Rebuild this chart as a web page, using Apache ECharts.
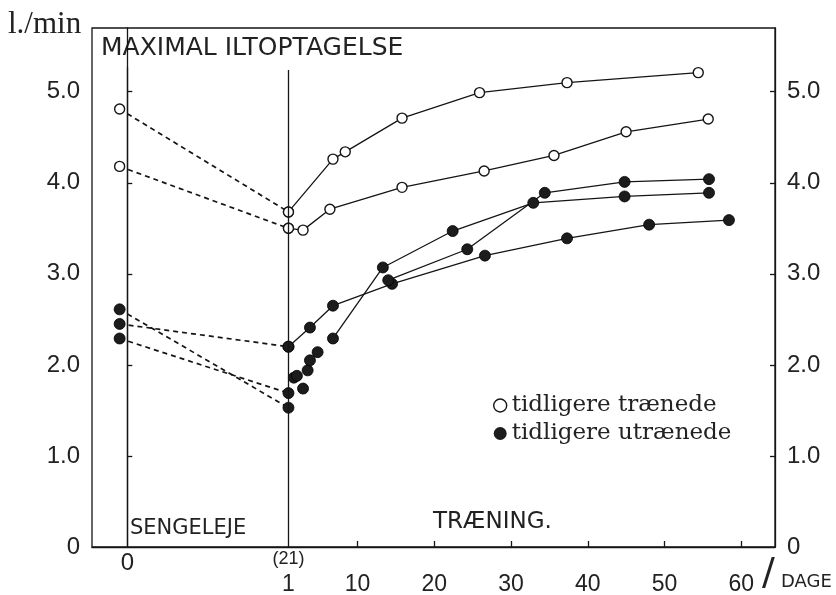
<!DOCTYPE html>
<html>
<head>
<meta charset="utf-8">
<script src="https://cdn.jsdelivr.net/npm/echarts@6/dist/echarts.min.js"></script>
<style>
html,body{margin:0;padding:0;background:#fff;}
#chart{width:836px;height:595px;}
</style>
</head>
<body>
<div id="chart"></div>
<script>
// ---- data (x: bed-rest day; training day t is plotted at day 20 + t, so training day 1 = bed-rest day 21) ----
const dayOffset = 20;
const bedRestDays = [-1.0, 21];           // tests at start (day 0) and end (day 21) of bed rest
const trained1Bed = [4.81, 3.68];
const trained2Bed = [4.18, 3.50];
const untrained1Bed = [2.45, 2.20];
const untrained2Bed = [2.61, 1.53];
const untrained3Bed = [2.29, 1.69];

const trained1Days = [1, 6.8, 8.4, 15.8, 25.9, 37.3, 54.4];
const trained1Vo2  = [3.68, 4.26, 4.34, 4.71, 4.99, 5.10, 5.21];
const trained2Days = [1, 2.9, 6.4, 15.8, 26.5, 35.6, 45.0, 55.7];
const trained2Vo2  = [3.50, 3.48, 3.71, 3.95, 4.13, 4.30, 4.56, 4.70];

const untrained1Days = [1, 3.8, 6.8, 14.5, 26.6, 37.3, 48.0, 58.4];
const untrained1Vo2  = [2.20, 2.41, 2.65, 2.89, 3.20, 3.39, 3.54, 3.59];
const untrainedEarlyDays = [1.7, 2.1, 2.9, 3.5, 3.8, 4.8];
const untrainedEarlyVo2  = [1.86, 1.88, 1.74, 1.94, 2.05, 2.14];
const untrained2Days = [6.8, 13.3, 22.4, 32.9, 44.8, 55.8];
const untrained2Vo2  = [2.29, 3.07, 3.47, 3.78, 3.85, 3.89];
const untrained3Days = [14.0, 24.3, 34.4, 44.8, 55.8];
const untrained3Vo2  = [2.93, 3.27, 3.89, 4.01, 4.04];

const xLabelPos    = [0, 21, 30, 40, 50, 60, 70, 80];
const xLabelTop    = ['0', '(21)', '', '', '', '', '', ''];
const xLabelBottom = ['', '1', '10', '20', '30', '40', '50', '60'];
const xTickPos     = [30, 40, 50, 60, 70, 80];
const yLabelPos    = [0, 1, 2, 3, 4, 5];
const yLabelText   = ['0', '1.0', '2.0', '3.0', '4.0', '5.0'];
const yTickPos     = [1, 2, 3, 4, 5];
const phaseLines   = [[0, 5.27], [21, 5.24]];   // day, top of vertical divider

const nameTrained = 'tidligere trænede';
const nameUntrained = 'tidligere utrænede';

// ---- build ----
const INK = '#151515';
const openStyle = {color: '#fff', borderColor: INK, borderWidth: 1.4, opacity: 1};
const fillStyle = {color: '#1c1c1c', borderColor: '#000', borderWidth: 0.8, opacity: 1};

function trainPts(days, vals) { return days.map((d, i) => [d + dayOffset, vals[i]]); }
function bedPts(vals) { return bedRestDays.map((d, i) => [d, vals[i]]); }

function solid(name, data, open) {
  return {
    type: 'line', name: name, data: data, symbol: 'circle',
    symbolSize: open ? 10 : 11, showSymbol: true, z: 3,
    itemStyle: open ? openStyle : fillStyle,
    lineStyle: {color: INK, width: 1.3}
  };
}
function dashed(name, data, open) {
  return {
    type: 'line', name: name, data: data, symbol: 'circle',
    symbolSize: open ? 10 : 11, z: 2,
    itemStyle: open ? openStyle : fillStyle,
    lineStyle: {color: INK, width: 1.7, type: [5, 4]}
  };
}

const series = [
  dashed('bt1', bedPts(trained1Bed), true),
  dashed('bt2', bedPts(trained2Bed), true),
  dashed('bu1', bedPts(untrained1Bed), false),
  dashed('bu2', bedPts(untrained2Bed), false),
  dashed('bu3', bedPts(untrained3Bed), false),
  solid(nameTrained, trainPts(trained1Days, trained1Vo2), true),
  solid(nameTrained, trainPts(trained2Days, trained2Vo2), true),
  solid(nameUntrained, trainPts(untrained1Days, untrained1Vo2), false),
  solid(nameUntrained, trainPts(untrained2Days, untrained2Vo2), false),
  solid(nameUntrained, trainPts(untrained3Days, untrained3Vo2), false),
  {
    type: 'scatter', name: nameUntrained, data: trainPts(untrainedEarlyDays, untrainedEarlyVo2),
    symbol: 'circle', symbolSize: 11, itemStyle: fillStyle, z: 3
  }
];
series[0].markLine = {
  silent: true, symbol: 'none', label: {show: false},
  lineStyle: {color: INK, width: 1.3, type: 'solid'},
  data: phaseLines.map(p => [{coord: [p[0], 0]}, {coord: [p[0], p[1]]}])
};

const numFont = "'Liberation Sans', Arial, sans-serif";
const yAxisCommon = {
  type: 'value', min: 0, max: 5.7,
  splitLine: {show: false},
  axisLine: {show: true, lineStyle: {color: INK, width: 1.3}},
  axisTick: {show: true, inside: true, length: 5, customValues: yTickPos, lineStyle: {color: INK, width: 1.3}},
  axisLabel: {
    customValues: yLabelPos, margin: 12, color: '#222', fontSize: 24, fontFamily: numFont,
    formatter: v => yLabelText[yLabelPos.indexOf(Math.round(v))] || ''
  }
};

const chart = echarts.init(document.getElementById('chart'), null, {renderer: 'canvas'});
chart.setOption({
  animation: false,
  backgroundColor: '#fff',
  grid: {left: 92, right: 61, top: 28, bottom: 48, containLabel: false, outerBoundsMode: 'none',
         show: true, borderColor: INK, borderWidth: 1.3, backgroundColor: 'transparent'},
  xAxis: {
    type: 'value', min: -4.6, max: 84.4,
    splitLine: {show: false},
    axisLine: {show: true, lineStyle: {color: INK, width: 1.3}},
    axisTick: {show: true, inside: true, length: 6, customValues: xTickPos, lineStyle: {color: INK, width: 1.3}},
    axisLabel: {
      customValues: xLabelPos, margin: 1, color: '#222', fontFamily: numFont,
      formatter: v => {
        const i = xLabelPos.indexOf(Math.round(v));
        if (i < 0) return '';
        const top = xLabelTop[i] === '' ? ' ' : xLabelTop[i];
        const bot = xLabelBottom[i] === '' ? ' ' : xLabelBottom[i];
        const topStyle = i === 0 ? 'z' : 't';
        return '{' + topStyle + '|' + top + '}\n{b|' + bot + '}';
      },
      rich: {
        t: {fontSize: 18, lineHeight: 22, fontFamily: numFont, color: '#222'},
        z: {fontSize: 24, lineHeight: 30, fontFamily: numFont, color: '#222'},
        b: {fontSize: 23, lineHeight: 30, fontFamily: numFont, color: '#222'}
      }
    }
  },
  yAxis: [
    Object.assign({position: 'left'}, yAxisCommon),
    Object.assign({position: 'right'}, yAxisCommon)
  ],
  legend: {
    orient: 'vertical', left: 488, top: 389, itemWidth: 13, itemHeight: 13, itemGap: 5,
    selectedMode: false,
    textStyle: {fontFamily: "'DejaVu Serif', 'Liberation Serif', serif", fontSize: 23, color: '#222'},
    data: [
      {name: nameTrained, icon: 'circle', itemStyle: {color: '#fff', borderColor: INK, borderWidth: 1.4}},
      {name: nameUntrained, icon: 'circle', itemStyle: {color: '#1c1c1c', borderWidth: 0}}
    ]
  },
  graphic: [
    {type: 'text', left: 8, top: 9, style: {text: 'l./min', font: "31px 'Liberation Serif', serif", fill: '#222'}},
    {type: 'text', left: 101, top: 36, style: {text: 'MAXIMAL ILTOPTAGELSE', font: "25px 'DejaVu Sans', sans-serif", fill: '#222'}},
    {type: 'text', left: 130, top: 518, style: {text: 'SENGELEJE', font: "21px 'DejaVu Sans', sans-serif", fill: '#222'}},
    {type: 'text', left: 433, top: 511, style: {text: 'TRÆNING.', font: "23px 'DejaVu Sans', sans-serif", fill: '#222'}},
    {type: 'text', left: 762, top: 555, style: {text: '/', font: "38px 'DejaVu Sans', sans-serif", fill: '#222'}},
    {type: 'text', left: 781, top: 573, style: {text: 'DAGE', font: "18px 'DejaVu Sans', sans-serif", fill: '#222'}}
  ],
  series: series
});
</script>
</body>
</html>
